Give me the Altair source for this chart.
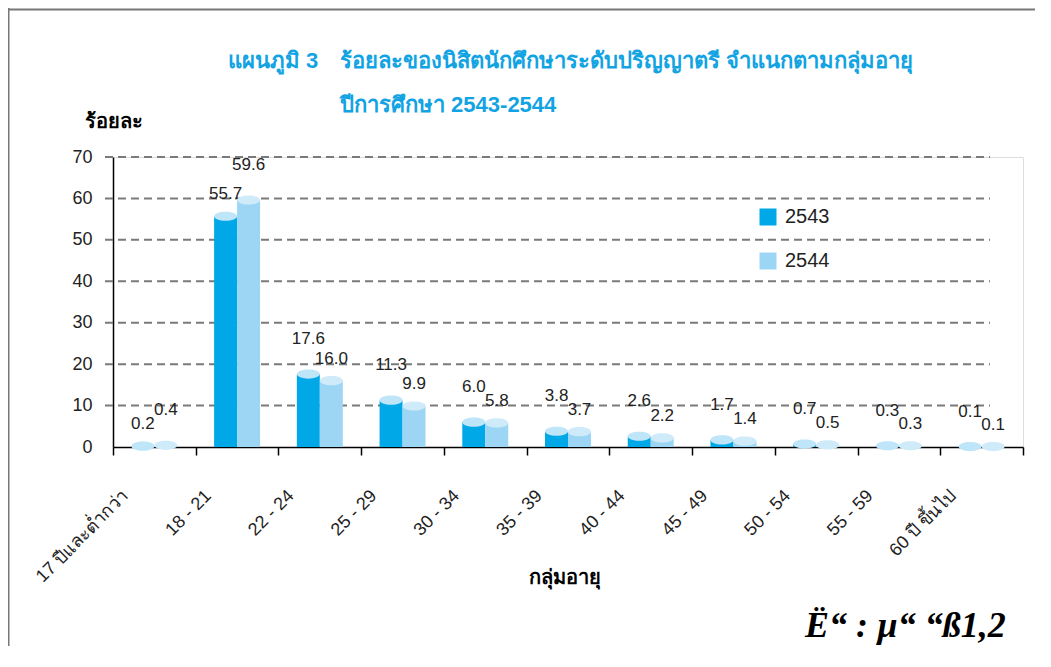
import altair as alt
import pandas as pd

categories = ["17 ปีและต่ำกว่า", "18 - 21", "22 - 24", "25 - 29", "30 - 34", "35 - 39",
              "40 - 44", "45 - 49", "50 - 54", "55 - 59", "60 ปี ขึ้นไป"]
years = ["2543", "2544"]
v2543 = [0.2, 55.7, 17.6, 11.3, 6.0, 3.8, 2.6, 1.7, 0.7, 0.3, 0.1]
v2544 = [0.4, 59.6, 16.0, 9.9, 5.8, 3.7, 2.2, 1.4, 0.5, 0.3, 0.1]
y_ticks = [0, 10, 20, 30, 40, 50, 60, 70]
grid_values = [10, 20, 30, 40, 50, 60, 70]

title1a = "แผนภูมิ 3"
title1b = "ร้อยละของนิสิตนักศึกษาระดับปริญญาตรี จำแนกตามกลุ่มอายุ"
title2 = "ปีการศึกษา 2543-2544"
y_title = "ร้อยละ"
x_title = "กลุ่มอายุ"
corner_text = "Ë“ : µ“ “ß1,2"

bar_colors = ["#00a8e8", "#9dd6f5"]
cap_colors = ["#bfe5f8", "#cfebfa"]
title_color = "#12a3e3"
FONT = "Liberation Sans"

rows = []
for c, a, b in zip(categories, v2543, v2544):
    # the taller bar of each pair carries its label higher (2543 wins ties)
    rows.append({"cat": c, "year": years[0], "value": a, "high": a >= b})
    rows.append({"cat": c, "year": years[1], "value": b, "high": b > a})
df = pd.DataFrame(rows)

W, H = 910, 290
PAD = {"left": 105, "top": 149, "right": 18, "bottom": 205}

x_enc = alt.X("cat:N", sort=categories, title=None,
              scale=alt.Scale(paddingInner=0, paddingOuter=0),
              axis=alt.Axis(labelAngle=-45, labelAlign="right", labelBaseline="middle",
                            labelOffset=-29, labelPadding=38, labelFontSize=18,
                            labelFont=FONT, labelColor="#222", labelLimit=0,
                            domainColor="black", domainWidth=1.5,
                            tickColor="black", tickWidth=1.5, tickSize=8,
                            tickBand="extent", grid=False))
xoff = alt.XOffset("year:N", sort=years,
                   scale=alt.Scale(paddingInner=0, paddingOuter=0.8))
y_scale = alt.Scale(domain=[0, 70], nice=False)
y_enc = alt.Y("value:Q", scale=y_scale, title=None,
              axis=alt.Axis(values=y_ticks, ticks=False, labelPadding=21,
                            labelFontSize=18, labelFont=FONT, labelColor="#222",
                            domainColor="black", domainWidth=1.5, grid=False))

grid = alt.Chart(pd.DataFrame({"v": grid_values})).mark_rule(
    color="#7a7a7a", strokeWidth=2, strokeDash=[8, 5]
).encode(y=alt.Y("v:Q", scale=y_scale), x=alt.value(-8), x2=alt.value(877))

bars = alt.Chart(df).mark_bar().encode(
    x=x_enc, xOffset=xoff, y=y_enc,
    color=alt.Color("year:N", scale=alt.Scale(domain=years, range=bar_colors),
                    legend=alt.Legend(title=None, orient="none", legendX=645, legendY=50,
                                      symbolType="square", symbolSize=289,
                                      symbolStrokeWidth=0, labelFontSize=20,
                                      labelFont=FONT, labelColor="#222",
                                      labelOffset=7, rowPadding=24)),
)

ellipse = "M -1 0 A 1 0.4 0 1 0 1 0 A 1 0.4 0 1 0 -1 0 Z"
caps = alt.Chart(df).mark_point(shape=ellipse, filled=True, size=529, opacity=1,
                                strokeWidth=0).encode(
    x=alt.X("cat:N", sort=categories), xOffset=xoff, y=alt.Y("value:Q"),
    fill=alt.Fill("year:N", scale=alt.Scale(domain=years, range=cap_colors), legend=None),
)


def labels(high, dy):
    return alt.Chart(df).transform_filter(alt.datum.high == high).mark_text(
        fontSize=17, font=FONT, color="#222", baseline="middle", dy=dy
    ).encode(x=alt.X("cat:N", sort=categories), xOffset=xoff, y=alt.Y("value:Q"),
             text=alt.Text("value:Q", format=".1f"))


lab_hi = labels(True, -35)
lab_lo = labels(False, -22)


def text_layer(txt, x, y, **kw):
    return alt.Chart(pd.DataFrame({"t": [txt]})).mark_text(baseline="alphabetic", **kw).encode(
        text="t:N", x=alt.value(x), y=alt.value(y))


t1a = text_layer(title1a, 115, -89, align="left", fontSize=22, fontWeight="bold",
                 color=title_color, font=FONT)
t1b = text_layer(title1b, 227, -89, align="left", fontSize=22, fontWeight="bold",
                 color=title_color, font=FONT)
t2 = text_layer(title2, 227, -45, align="left", fontSize=22, fontWeight="bold",
                color=title_color, font=FONT)
ty = text_layer(y_title, -28, -29, align="left", fontSize=20, fontWeight="bold",
                color="black", font=FONT)
tx = text_layer(x_title, 452, 427, align="center", fontSize=20, fontWeight="bold",
                color="black", font=FONT)
tc = text_layer(corner_text, 692, 480, align="left", fontSize=36, fontWeight="bold",
                fontStyle="italic", color="black", font="Liberation Serif")

# outer frame: only its top and left edges fall inside the picture
frame_top = alt.Chart(pd.DataFrame({"t": [0]})).mark_rule(color="#777777", strokeWidth=2).encode(
    x=alt.value(-PAD["left"]), x2=alt.value(W + PAD["right"] - 6), y=alt.value(-147.5))
frame_left = alt.Chart(pd.DataFrame({"t": [1]})).mark_rule(color="#777777", strokeWidth=2).encode(
    x=alt.value(-104.5), x2=alt.value(-104.5),
    y=alt.value(-PAD["top"]), y2=alt.value(H + PAD["bottom"] - 6))

chart = alt.layer(frame_top, frame_left, grid, bars, caps, lab_hi, lab_lo,
                  t1a, t1b, t2, ty, tx, tc).properties(
    width=W, height=H,
    autosize=alt.AutoSizeParams(type="none"),
    padding=PAD,
).resolve_scale(color="independent").configure_view(stroke=None).configure(background="white")

chart.save("out.html", embed_options={"renderer": "svg", "actions": False})
